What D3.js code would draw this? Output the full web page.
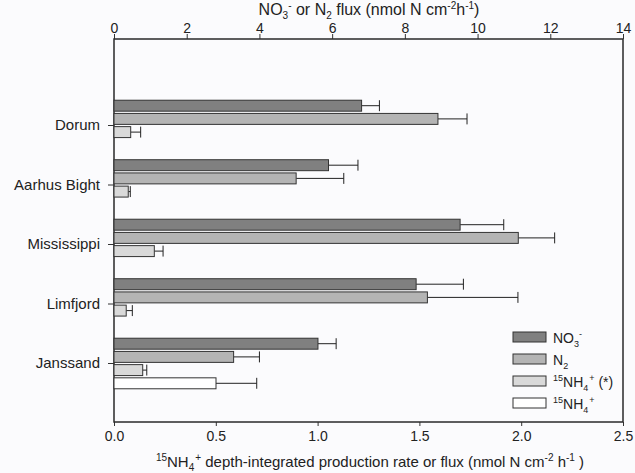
<!DOCTYPE html>
<html>
<head>
<meta charset="utf-8">
<script src="https://cdn.jsdelivr.net/npm/d3@7"></script>
<style>
body { margin: 0; background: #fbfbfd; }
text { font-family: "Liberation Sans", Arial, sans-serif; fill: #222; }
</style>
</head>
<body>
<div id="chart"></div>
<script>
// sites, top to bottom
var sites = ["Dorum", "Aarhus Bight", "Mississippi", "Limfjord", "Janssand"];
var series = ["no3", "n2", "nh4s", "nh4"];

// NO3- and N2 flux, top axis (nmol N cm-2 h-1)
var no3 = [6.81, 5.90, 9.52, 8.31, 5.61];
var no3_err = [0.49, 0.81, 1.20, 1.30, 0.50];
var n2 = [8.91, 5.01, 11.12, 8.62, 3.29];
var n2_err = [0.80, 1.31, 1.00, 2.49, 0.71];

// 15NH4+ rates, bottom axis
var nh4s = [0.082, 0.070, 0.198, 0.060, 0.141];
var nh4s_err = [0.049, 0.010, 0.043, 0.030, 0.020];
var nh4 = [null, null, null, null, 0.501];
var nh4_err = [null, null, null, null, 0.200];

var topTicks = [0, 2, 4, 6, 8, 10, 12, 14];
var bottomTicks = [0, 0.5, 1.0, 1.5, 2.0, 2.5];

var width = 635;
var height = 473;
var margin = {top: 39, right: 12, bottom: 51, left: 114};
var fills = {no3: "#808080", n2: "#b4b4b4", nh4s: "#d9d9d9", nh4: "#ffffff"};

var svg = d3.select("#chart")
		.append("svg")
		.attr("width", width)
		.attr("height", height);

var xTop = d3.scaleLinear()
		.domain([0, 14])
		.range([margin.left, width - margin.right]);
var xBottom = d3.scaleLinear()
		.domain([0, 2.5])
		.range([margin.left, width - margin.right]);

var yScale = d3.scaleBand()
		.domain(sites)
		.range([95.75, 393.25]);
var ySub = d3.scaleBand()
		.domain(series)
		.range([0, 52.8])
		.paddingInner(0.17)
		.paddingOuter(0.085);

// build rows from the arrays
var rows = [];
for (var i = 0; i < sites.length; i++) {
	rows.push({site: sites[i], key: "no3", value: no3[i], err: no3_err[i], scale: xTop});
	rows.push({site: sites[i], key: "n2", value: n2[i], err: n2_err[i], scale: xTop});
	rows.push({site: sites[i], key: "nh4s", value: nh4s[i], err: nh4s_err[i], scale: xBottom});
	if (nh4[i] !== null) {
		rows.push({site: sites[i], key: "nh4", value: nh4[i], err: nh4_err[i], scale: xBottom});
	}
}

function barY(d) {
	return yScale(d.site) + yScale.bandwidth() / 2 - 26.4 + ySub(d.key);
}

// axes
var topAxis = svg.append("g")
		.attr("transform", "translate(0," + margin.top + ")")
		.call(d3.axisTop(xTop).tickValues(topTicks).tickSize(5).tickPadding(1));
var bottomAxis = svg.append("g")
		.attr("transform", "translate(0," + (height - margin.bottom) + ")")
		.call(d3.axisBottom(xBottom).tickValues(bottomTicks).tickFormat(d3.format(".1f")).tickSize(4).tickPadding(5));
var leftAxis = svg.append("g")
		.attr("transform", "translate(" + margin.left + ",0)")
		.call(d3.axisLeft(yScale).tickSize(6).tickPadding(8));

[topAxis, bottomAxis, leftAxis].forEach(function(a) {
	a.select(".domain").remove();
	a.selectAll(".tick line").attr("stroke", "#333");
	a.selectAll("text")
		.attr("font-family", "Liberation Sans, Arial, sans-serif")
		.attr("font-size", 14)
		.attr("fill", "#222");
});
leftAxis.selectAll("text").attr("font-size", 15);

// frame
svg.append("rect")
		.attr("x", margin.left)
		.attr("y", margin.top)
		.attr("width", width - margin.left - margin.right)
		.attr("height", height - margin.top - margin.bottom)
		.attr("fill", "none")
		.attr("stroke", "#2a2a2a")
		.attr("stroke-width", 1.5);

// error bars
var errs = svg.append("g")
		.selectAll("g")
		.data(rows)
		.enter()
		.append("g")
		.attr("stroke", "#222")
		.attr("stroke-width", 1);
errs.append("line")
		.attr("x1", function(d) { return d.scale(d.value); })
		.attr("x2", function(d) { return d.scale(d.value + d.err); })
		.attr("y1", function(d) { return barY(d) + ySub.bandwidth() / 2; })
		.attr("y2", function(d) { return barY(d) + ySub.bandwidth() / 2; });
errs.append("line")
		.attr("x1", function(d) { return d.scale(d.value + d.err); })
		.attr("x2", function(d) { return d.scale(d.value + d.err); })
		.attr("y1", function(d) { return barY(d); })
		.attr("y2", function(d) { return barY(d) + ySub.bandwidth(); });

// bars
svg.append("g")
		.selectAll("rect")
		.data(rows)
		.enter()
		.append("rect")
		.attr("x", margin.left)
		.attr("y", function(d) { return barY(d); })
		.attr("width", function(d) { return d.scale(d.value) - margin.left; })
		.attr("height", ySub.bandwidth())
		.attr("fill", function(d) { return fills[d.key]; })
		.attr("stroke", "#333")
		.attr("stroke-width", 1);

// text with sub/superscripts
function richText(sel, parts, small) {
	var shift = 0;
	parts.forEach(function(p) {
		var t = sel.append("tspan").text(p[0]);
		var target = 0;
		if (p[1] === "sub") target = 4;
		if (p[1] === "sup") target = -6;
		t.attr("dy", target - shift);
		if (p[2]) t.attr("dx", p[2]);
		if (target !== 0) t.attr("font-size", small);
		shift = target;
	});
}

richText(svg.append("text")
		.attr("x", 369)
		.attr("y", 15)
		.attr("text-anchor", "middle")
		.attr("font-size", 16),
	[["NO"], ["3", "sub"], ["-", "sup", 0], [" or N"], ["2", "sub"], [" flux (nmol N cm"], ["-2", "sup"], ["h"], ["-1", "sup"], [")"]], 10);

richText(svg.append("text")
		.attr("x", 370)
		.attr("y", 467)
		.attr("text-anchor", "middle")
		.attr("font-size", 15),
	[["15", "sup"], ["NH"], ["4", "sub"], ["+", "sup", 1], [" depth-integrated production rate or flux (nmol N cm"], ["-2", "sup"], [" h"], ["-1", "sup"], [" )"]], 10);

// legend
var legendLabels = [
	[["NO"], ["3", "sub"], ["-", "sup", 0]],
	[["N"], ["2", "sub"]],
	[["15", "sup"], ["NH"], ["4", "sub"], ["+", "sup", 1], [" (*)"]],
	[["15", "sup"], ["NH"], ["4", "sub"], ["+", "sup", 1]]
];
var legend = svg.append("g")
		.selectAll("g")
		.data(series)
		.enter()
		.append("g")
		.attr("transform", function(d, i) { return "translate(513," + (332 + i * 22) + ")"; });
legend.append("rect")
		.attr("width", 33)
		.attr("height", 10)
		.attr("fill", function(d) { return fills[d]; })
		.attr("stroke", "#333");
legend.each(function(d, i) {
	richText(d3.select(this).append("text")
			.attr("x", 40)
			.attr("y", 11)
			.attr("font-size", 14), legendLabels[i], 9);
});
</script>
</body>
</html>
